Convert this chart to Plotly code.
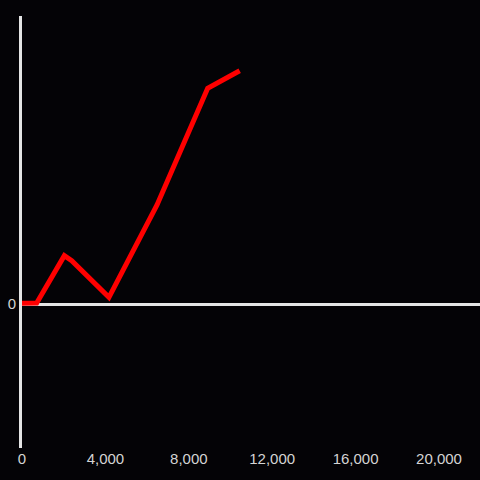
import plotly.graph_objects as go

x_vals = [0, 705, 2030, 2385, 4170, 6475, 8906, 10440]
y_vals = [0.3, 0.35, 16.8, 15.0, 2.3, 34.4, 74.9, 81.0]
x_ticks = [0, 4000, 8000, 12000, 16000, 20000]
x_tick_labels = ["0", "4,000", "8,000", "12,000", "16,000", "20,000"]

fig = go.Figure()
fig.add_trace(go.Scatter(
    x=x_vals, y=y_vals, mode="lines",
    line=dict(color="#ff0000", width=5),
    hoverinfo="skip", showlegend=False,
))

axis_col = "#e4e4e4"
fig.update_layout(
    width=480, height=480,
    paper_bgcolor="#040306", plot_bgcolor="#040306",
    margin=dict(l=22, r=0, t=16, b=32),
    font=dict(family="Liberation Sans, Arial, sans-serif", size=15, color="#d4d4d4"),
    xaxis=dict(
        range=[0, 21966], tickvals=x_ticks, ticktext=x_tick_labels,
        showgrid=False, zeroline=False, showline=False, ticks="",
    ),
    yaxis=dict(
        range=[-50, 100], tickvals=[0], ticktext=["0"],
        showgrid=False, zeroline=True, zerolinecolor=axis_col, zerolinewidth=3,
        showline=True, linecolor=axis_col, linewidth=3, ticks="",
    ),
)

fig.write_html(
    "out.html",
    config={"displayModeBar": False},
    post_script="document.body.style.margin='0';document.body.style.background='#040306';",
)
